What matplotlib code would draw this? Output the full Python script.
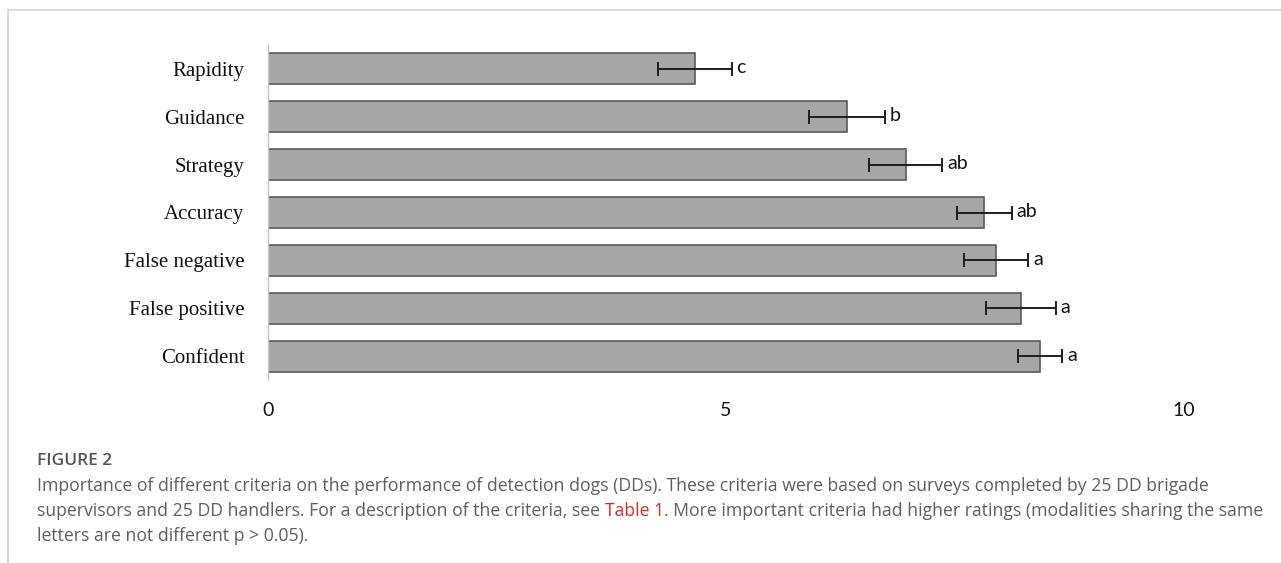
import matplotlib.pyplot as plt
from matplotlib.lines import Line2D
import numpy as np

criteria = ['Rapidity', 'Guidance', 'Strategy', 'Accuracy', 'False negative', 'False positive', 'Confident']
scores = [4.66, 6.32, 6.96, 7.82, 7.95, 8.22, 8.43]
errors = [0.40, 0.41, 0.40, 0.30, 0.35, 0.38, 0.24]
letters = ['c', 'b', 'ab', 'ab', 'a', 'a', 'a']
xticks = [0, 5, 10]

W, H = 1281, 563
fig = plt.figure(figsize=(W / 100, H / 100), dpi=100)
ax = fig.add_axes([268 / W, 183 / H, 962 / W, 335 / H])

y = np.arange(len(criteria))
ax.barh(y, scores, height=0.65, color='#a6a6a6', edgecolor='#5a5a5a', linewidth=1.2, zorder=2)
ax.errorbar(scores, y, xerr=errors, fmt='none', ecolor='#1e1e1e', elinewidth=1.4,
            capsize=5, capthick=1.4, zorder=3)
for yi, s, e, lab in zip(y, scores, errors, letters):
    ax.text(s + e + 0.05, yi - 0.02, lab, ha='left', va='center', fontsize=14,
            family='Lato', color='#111111')

ax.set_ylim(len(criteria) - 0.5, -0.5)
ax.set_xlim(0, 10.5)
ax.set_yticks(y)
ax.set_yticklabels(criteria, family='Liberation Serif', fontsize=15, color='#111111')
ax.set_xticks(xticks)
ax.set_xticklabels([str(t) for t in xticks], family='Lato', fontsize=14, color='#111111')
ax.tick_params(axis='y', length=0, pad=17)
ax.tick_params(axis='x', length=0, pad=16)
for side in ['top', 'right', 'bottom']:
    ax.spines[side].set_visible(False)
ax.spines['left'].set_color('#c8c8c8')
ax.spines['left'].set_linewidth(1.0)

# page frame lines
fig.add_artist(Line2D([8 / W, 8 / W], [0, 1 - 10 / H], transform=fig.transFigure,
                      color='#d4d4d4', linewidth=1.2))
fig.add_artist(Line2D([8 / W, 1], [1 - 10 / H, 1 - 10 / H], transform=fig.transFigure,
                      color='#d4d4d4', linewidth=1.2))

# caption
cx = 37 / W
cap_font = dict(family='Open Sans', fontsize=12.7, color='#5e5e5e', va='center')
fig.text(cx, 1 - 461 / H, 'FIGURE 2', family='Open Sans', fontsize=12.5,
         color='#555555', weight='semibold', va='center')
fig.text(cx, 1 - 486 / H,
         'Importance of different criteria on the performance of detection dogs (DDs). '
         'These criteria were based on surveys completed by 25 DD brigade', **cap_font)
part1 = fig.text(cx, 1 - 511 / H,
                 'supervisors and 25 DD handlers. For a description of the criteria, see ',
                 **cap_font)
fig.canvas.draw()
r = fig.canvas.get_renderer()
bb = part1.get_window_extent(r)
part2 = fig.text(bb.x1 / W, 1 - 511 / H, 'Table 1',
                 **{**cap_font, 'color': '#d42a2a'})
bb2 = part2.get_window_extent(r)
fig.text(bb2.x1 / W, 1 - 511 / H,
         '. More important criteria had higher ratings (modalities sharing the same',
         **cap_font)
fig.text(cx, 1 - 536 / H, 'letters are not different p > 0.05).', **cap_font)

fig.savefig('out.png', dpi=100)
